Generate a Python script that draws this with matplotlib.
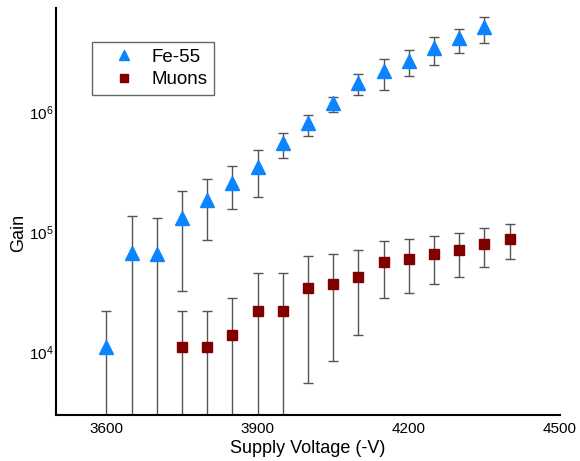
import matplotlib
matplotlib.use("Agg")
import matplotlib.pyplot as plt
import numpy as np
from matplotlib.ticker import FixedLocator, FuncFormatter, NullLocator

plt.rcParams["font.family"] = ["Liberation Sans", "DejaVu Sans"]
plt.rcParams["mathtext.fontset"] = "custom"
plt.rcParams["mathtext.rm"] = "Liberation Sans"
plt.rcParams["mathtext.it"] = "Liberation Sans"

# Fe-55 gain vs supply voltage
fe_v = [3600, 3650, 3700, 3750, 3800, 3850, 3900, 3950, 4000, 4050, 4100, 4150, 4200, 4250, 4300, 4350]
fe_gain = [1.1e4, 6.7e4, 6.5e4, 1.31e5, 1.85e5, 2.56e5, 3.48e5, 5.5e5, 8.1e5, 1.19e6, 1.75e6, 2.2e6, 2.66e6, 3.4e6, 4.14e6, 5.1e6]
fe_low = [1e3, 1e3, 1e3, 3.2e4, 8.6e4, 1.56e5, 1.96e5, 4.1e5, 6.3e5, 1.0e6, 1.39e6, 1.52e6, 2.0e6, 2.47e6, 3.1e6, 3.76e6]
fe_high = [2.2e4, 1.36e5, 1.3e5, 2.2e5, 2.77e5, 3.55e5, 4.8e5, 6.7e5, 9.4e5, 1.33e6, 2.07e6, 2.76e6, 3.29e6, 4.2e6, 4.9e6, 6.2e6]

# Muon gain vs supply voltage
mu_v = [3750, 3800, 3850, 3900, 3950, 4000, 4050, 4100, 4150, 4200, 4250, 4300, 4350, 4400]
mu_gain = [1.1e4, 1.1e4, 1.39e4, 2.2e4, 2.2e4, 3.4e4, 3.7e4, 4.2e4, 5.6e4, 5.96e4, 6.56e4, 7.1e4, 7.9e4, 8.8e4]
mu_low = [1e3, 1e3, 1e3, 1e3, 1e3, 5.5e3, 8.4e3, 1.39e4, 2.8e4, 3.1e4, 3.7e4, 4.2e4, 5.1e4, 5.96e4]
mu_high = [2.2e4, 2.2e4, 2.8e4, 4.55e4, 4.55e4, 6.3e4, 6.6e4, 7.1e4, 8.4e4, 8.8e4, 9.3e4, 9.8e4, 1.08e5, 1.17e5]

x_ticks = [3600, 3900, 4200, 4500]
y_ticks = [1e4, 1e5, 1e6]

fig = plt.figure(figsize=(5.8, 4.61), dpi=100)
ax = fig.add_axes([0.0966, 0.0998, 0.8689, 0.8828])

def yerr(g, lo, hi):
    g = np.array(g)
    return [g - np.array(lo), np.array(hi) - g]

ebar = dict(ecolor="#555555", elinewidth=1.0, capsize=3.6, capthick=1.0, linestyle="none")
ax.errorbar(fe_v, fe_gain, yerr=yerr(fe_gain, fe_low, fe_high), marker="^",
            color="#0a84ff", markersize=9.5, **ebar)
ax.errorbar(mu_v, mu_gain, yerr=yerr(mu_gain, mu_low, mu_high), marker="s",
            color="#800000", markersize=6.8, **ebar)

# legend handles without error bars
h_fe, = ax.plot([], [], "^", color="#0a84ff", markersize=9.5, label="Fe-55")
h_mu, = ax.plot([], [], "s", color="#800000", markersize=6.8, label="Muons")

ax.set_yscale("log")
ax.set_xlim(3500, 4500)
ax.set_ylim(2985, 7.36e6)
ax.set_xticks(x_ticks)
ax.yaxis.set_major_locator(FixedLocator(y_ticks))
ax.yaxis.set_minor_locator(NullLocator())
ax.yaxis.set_major_formatter(FuncFormatter(lambda v, p: r"10$^{\mathregular{%d}}$" % round(np.log10(v))))
ax.tick_params(axis="x", length=0, pad=5, labelsize=11)
ax.tick_params(axis="y", length=0, pad=2, labelsize=11)

for s in ["top", "right"]:
    ax.spines[s].set_visible(False)
for s in ["left", "bottom"]:
    ax.spines[s].set_linewidth(1.5)

ax.set_xlabel("Supply Voltage (-V)", fontsize=13, labelpad=3)
ax.set_ylabel("Gain", fontsize=13)
ax.yaxis.set_label_coords(-0.058, 0.447)

leg = ax.legend(handles=[h_fe, h_mu], loc="upper left", bbox_to_anchor=(0.0714, 0.9165),
                borderaxespad=0, fontsize=13.5, fancybox=False, framealpha=1,
                edgecolor="#666666", borderpad=0.35, handletextpad=0.1,
                labelspacing=0.3, markerscale=0.8, handlelength=2.7)
leg.get_frame().set_linewidth(1.0)

fig.savefig("out.png", dpi=100)
